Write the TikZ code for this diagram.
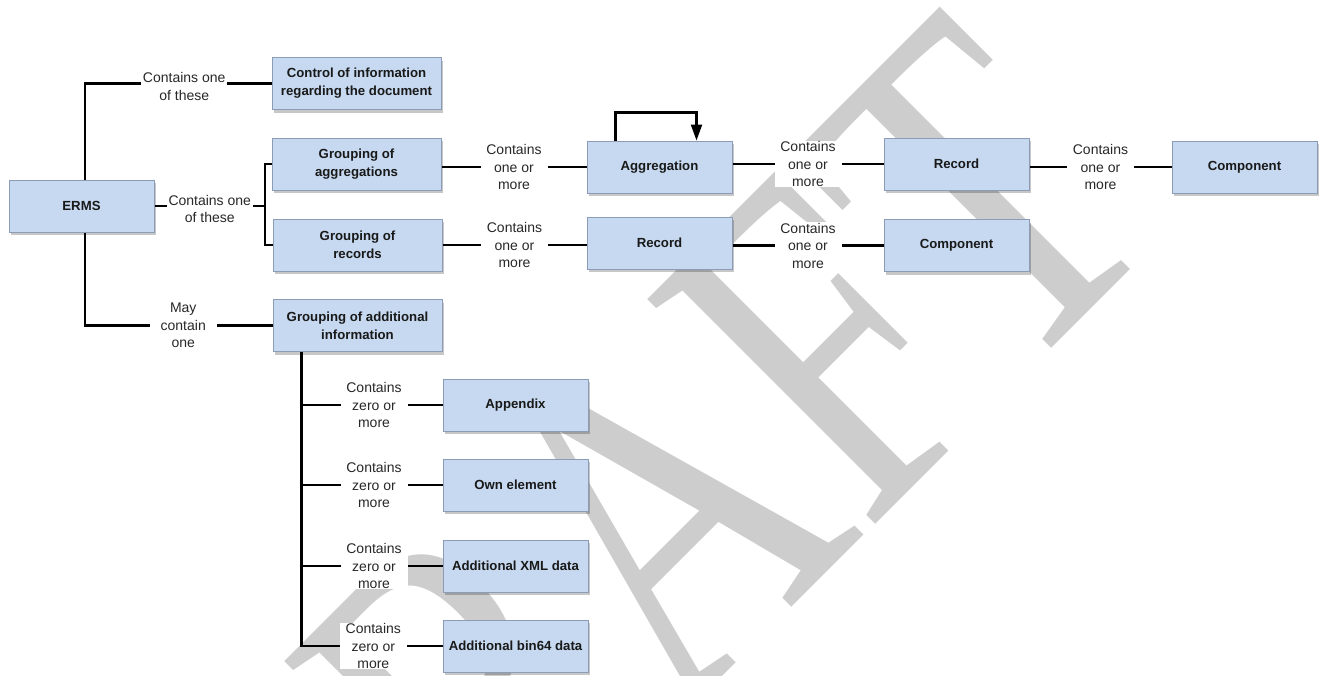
\documentclass[tikz,border=0pt]{standalone}
\usepackage{fontspec}
\setmainfont{Liberation Sans}
\newfontfamily\wmfont{Liberation Serif}
\usetikzlibrary{shadows,arrows.meta,calc}

\definecolor{boxfill}{RGB}{198,217,240}
\definecolor{boxline}{RGB}{140,156,182}
\definecolor{wmgray}{RGB}{205,205,205}
\definecolor{lbltext}{RGB}{40,40,40}

\tikzset{
  entity/.style={draw=boxline, line width=1pt, fill=boxfill,
    minimum width=145pt, minimum height=52pt, inner sep=2pt, align=center,
    text=black!90, font=\bfseries\fontsize{13.2}{18}\selectfont,
    drop shadow={shadow xshift=2pt, shadow yshift=-3pt, fill=black, opacity=0.22}},
  wide/.style={minimum width=169pt},
  lbl/.style={fill=white, minimum width=67pt, inner xsep=2pt, inner ysep=0.5pt,
    align=center, text=lbltext, font=\fontsize{14}{17.5}\selectfont},
  link/.style={line width=2.8pt, black},
  selfloop/.style={line width=2.2pt, black, -{Triangle[length=16pt,width=11pt]}},
}

\begin{document}
\begin{tikzpicture}[x=1pt, y=1pt, line join=miter]
\useasboundingbox (0,0) rectangle (1328,-675);
\fill[white] (0,0) rectangle (1328,-675);

% watermark behind the chart
\begin{scope}
  \clip (0,0) rectangle (1328,-675);
  \node[rotate=45, yscale=1.325, anchor=north east, inner sep=0pt, text=wmgray,
        font=\wmfont\fontsize{369}{369}\selectfont] (wm) at (942.5,0) {DRAFT};
\end{scope}

% entities
\node[entity] (erms) at (81.5,-206) {ERMS};
\node[entity,wide] (ctrl) at (356.5,-83.5) {Control of information\\regarding the document};
\node[entity,wide] (gagg) at (356.5,-164) {Grouping of\\aggregations};
\node[entity,wide] (grec) at (357.5,-245) {Grouping of\\records};
\node[entity,wide] (gadd) at (357.5,-325.5) {Grouping of additional\\information};
\node[entity] (agg) at (659.5,-167) {Aggregation};
\node[entity] (rec1) at (956.5,-164) {Record};
\node[entity] (comp1) at (1244.5,-167) {Component};
\node[entity] (rec2) at (659.5,-243) {Record};
\node[entity] (comp2) at (956.5,-245.5) {Component};
\node[entity] (app) at (515.5,-405) {Appendix};
\node[entity] (own) at (515.5,-485) {Own element};
\node[entity] (xml) at (515.5,-566) {Additional XML data};
\node[entity] (bin) at (515.5,-646) {Additional bin64 data};

% ERMS branches
\draw[link] ([xshift=3.5]erms.north) |- node[lbl, pos=0.766, yshift=-3pt] (l1) {Contains one\\of these} (ctrl.west);
\coordinate (jmid) at (265,-203);
\draw[link] (erms.east) -- node[lbl, yshift=-3pt] (l2) {Contains one\\of these} (erms.east -| jmid);
\draw[link] (gagg.west) -| (jmid |- grec.west) -- (grec.west);
\draw[link] ([xshift=3.5]erms.south) |- node[lbl, pos=0.762] (l3) {May\\contain\\one} (gadd.west);

% aggregation chain
\draw[link] (gagg.east |- agg.west) -- node[lbl] (l4) {Contains\\one or\\more} (agg.west);
\draw[link] (agg.east |- rec1.west) -- node[lbl] (l5) {Contains\\one or\\more} (rec1.west);
\draw[link] (rec1.east |- comp1.west) -- node[lbl] (l6) {Contains\\one or\\more} (comp1.west);
\draw[selfloop] ([xshift=29]agg.north west) -- ++(0,28) -| ([xshift=110]agg.north west);

% record chain
\draw[link] (grec.east) -- node[lbl] (l7) {Contains\\one or\\more} (grec.east -| rec2.west);
\draw[link] (rec2.east |- comp2.west) -- node[lbl] (l8) {Contains\\one or\\more} (comp2.west);

% additional information
\coordinate (jadd) at ([xshift=29]gadd.south west);
\draw[link] (jadd) -- (jadd |- bin.west);
\draw[link] (jadd |- app.west) -- node[lbl, xshift=2pt] (l9) {Contains\\zero or\\more} (app.west);
\draw[link] (jadd |- own.west) -- node[lbl, xshift=2pt] (l10) {Contains\\zero or\\more} (own.west);
\draw[link] (jadd |- xml.west) -- node[lbl, xshift=2pt] (l11) {Contains\\zero or\\more} (xml.west);
\draw[link] ([xshift=-1.4pt]jadd |- bin.west) -- node[lbl, xshift=2pt] (l12) {Contains\\zero or\\more} (bin.west);
\end{tikzpicture}
\end{document}
